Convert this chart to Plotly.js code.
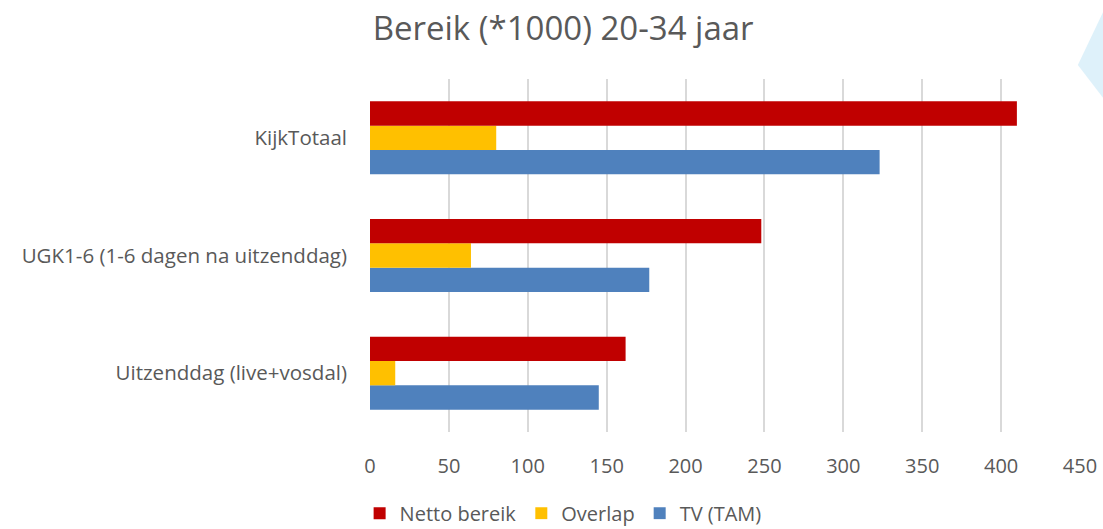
<!DOCTYPE html>
<html>
<head>
<meta charset="utf-8">
<script src="https://cdn.plot.ly/plotly-3.0.1.min.js"></script>
<style>
  html, body { margin: 0; padding: 0; background: #fff; }
  #chart { width: 1103px; height: 529px; }
</style>
</head>
<body>
<div id="chart"></div>
<script>
// categories, bottom to top as drawn
const categories = ['Uitzenddag (live+vosdal)', 'UGK1-6 (1-6 dagen na uitzenddag)', 'KijkTotaal'];
const nettoBereik = [162, 248, 410];
const overlap = [16, 64, 80];
const tvTam = [145, 177, 323];
const xTicks = [0, 50, 100, 150, 200, 250, 300, 350, 400, 450];

const textColor = '#595959';
const fontFamily = '"Open Sans", "Noto Sans", sans-serif';

// first trace sits lowest in each group, so TV goes first
const traces = [
    { name: 'TV (TAM)', y: categories, x: tvTam, type: 'bar', orientation: 'h',
      marker: { color: '#4F81BD' }, hoverinfo: 'x+name' },
    { name: 'Overlap', y: categories, x: overlap, type: 'bar', orientation: 'h',
      marker: { color: '#FFC000' }, hoverinfo: 'x+name' },
    { name: 'Netto bereik', y: categories, x: nettoBereik, type: 'bar', orientation: 'h',
      marker: { color: '#C00000' }, hoverinfo: 'x+name' }
];

const layout = {
    width: 1103,
    height: 529,
    paper_bgcolor: '#ffffff',
    plot_bgcolor: '#ffffff',
    font: { family: fontFamily, color: textColor, size: 20 },
    title: {
        text: 'Bereik (*1000) 20-34 jaar',
        font: { size: 33, color: textColor, family: fontFamily },
        xref: 'paper', x: 0.272, xanchor: 'center',
        yref: 'container', y: 0.947, yanchor: 'middle'
    },
    margin: { l: 370, r: 23, t: 79, b: 97 },
    barmode: 'group',
    bargap: 0.38,
    bargroupgap: 0,
    xaxis: {
        range: [0, 450],
        tickvals: xTicks,
        showgrid: true,
        gridcolor: '#D9D9D9',
        gridwidth: 1.5,
        zeroline: false,
        showline: false,
        ticks: '',
        ticklabelstandoff: 20,
        tickfont: { size: 20, color: textColor }
    },
    yaxis: {
        showgrid: false,
        zeroline: false,
        showline: false,
        ticks: '',
        ticklabelstandoff: 22,
        tickfont: { size: 20.5, color: textColor }
    },
    legend: {
        orientation: 'h',
        traceorder: 'reversed',
        xref: 'paper', x: 0.272, xanchor: 'center',
        yref: 'container', y: 0.03, yanchor: 'middle',
        font: { size: 20, color: textColor },
        itemwidth: 30,
        tracegroupgap: 0
    },
    showlegend: true,
    // faint decorative triangle in the top-right corner
    shapes: [{
        type: 'path',
        xref: 'paper', yref: 'paper',
        path: 'M 0.997 1.04 L 1.035 1.2 L 1.035 0.94 Z',
        fillcolor: 'rgba(190,228,245,0.5)',
        line: { width: 0 },
        layer: 'below'
    }]
};

Plotly.newPlot('chart', traces, layout, { displayModeBar: false, responsive: false });
</script>
</body>
</html>
